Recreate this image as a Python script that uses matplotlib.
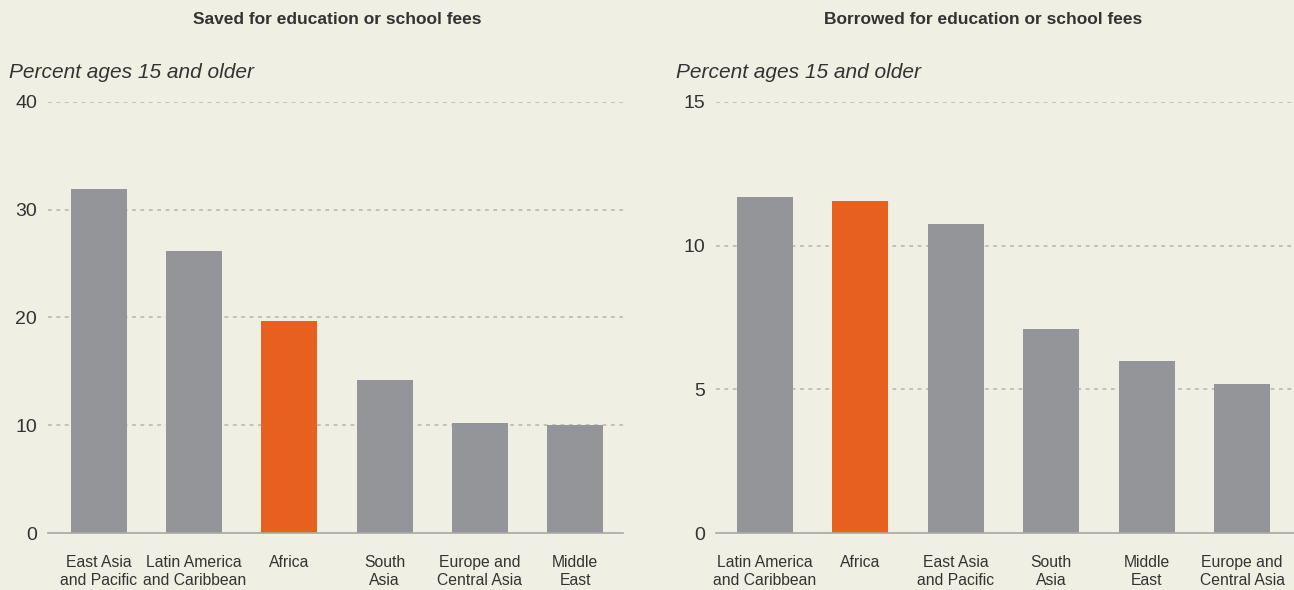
import matplotlib
matplotlib.use("Agg")
import matplotlib.pyplot as plt
from matplotlib import font_manager

# Data
saved_regions = ["East Asia\nand Pacific", "Latin America\nand Caribbean", "Africa",
                 "South\nAsia", "Europe and\nCentral Asia", "Middle\nEast"]
saved_values = [31.9, 26.2, 19.7, 14.2, 10.2, 10.0]
saved_ticks = [0, 10, 20, 30, 40]

borrowed_regions = ["Latin America\nand Caribbean", "Africa", "East Asia\nand Pacific",
                    "South\nAsia", "Middle\nEast", "Europe and\nCentral Asia"]
borrowed_values = [11.7, 11.55, 10.75, 7.1, 6.0, 5.2]
borrowed_ticks = [0, 5, 10, 15]

highlight = "Africa"

BG = "#EFF0E3"
GRAY = "#949599"
ORANGE = "#E8601F"
GRID = "#B4B5AD"
TXT = "#333333"

avail = {f.name for f in font_manager.fontManager.ttflist}
narrow = "Liberation Sans Narrow" if "Liberation Sans Narrow" in avail else "Liberation Sans"
plt.rcParams['font.family'] = [narrow, 'DejaVu Sans']

fig = plt.figure(figsize=(12.94, 5.9), dpi=100, facecolor=BG)

W, H = 1294, 590

def make(ax_px, regions, values, ticks, xlim, title, title_x, sub_x):
    x0, x1 = ax_px
    ax = fig.add_axes([x0 / W, (H - 533) / H, (x1 - x0) / W, 431 / H])
    ax.set_facecolor(BG)
    colors = [ORANGE if r == highlight else GRAY for r in regions]
    ax.bar(range(len(regions)), values, width=0.588, color=colors, zorder=3)
    ax.set_xlim(*xlim)
    ax.set_ylim(0, ticks[-1])
    ax.set_yticks(ticks)
    ax.set_yticklabels([str(t) for t in ticks], fontsize=14, color=TXT)
    for t in ticks[1:]:
        ax.axhline(t, color=GRID, linestyle=(0, (2.5, 3)), linewidth=1.1, zorder=1)
    ax.set_xticks(range(len(regions)))
    ax.set_xticklabels(regions, fontsize=11.3, color=TXT, linespacing=1.2)
    for s in ["top", "right", "left"]:
        ax.spines[s].set_visible(False)
    ax.spines["bottom"].set_color("#A8A9A3")
    ax.spines["bottom"].set_linewidth(1.2)
    ax.spines["bottom"].set_zorder(4)
    ax.tick_params(axis="y", length=0, pad=8)
    ax.tick_params(axis="x", length=0, pad=16)
    fig.text(title_x / W, 1 - 20 / H, title, ha="center", va="center",
             fontsize=12.5, fontweight="bold", color=TXT, family=["Liberation Sans", "DejaVu Sans"])
    fig.text(sub_x / W, 1 - 72 / H, "Percent ages 15 and older",
             ha="left", va="center", fontsize=15, style="italic", color=TXT,
             family=["Liberation Sans", "DejaVu Sans"])
    return ax

make((48, 623), saved_regions, saved_values, saved_ticks, (-0.536, 5.504),
     "Saved for education or school fees", 337, 9)
make((716, 1294), borrowed_regions, borrowed_values, borrowed_ticks, (-0.514, 5.545),
     "Borrowed for education or school fees", 983, 676)

fig.savefig("out.png", dpi=100, facecolor=BG)
